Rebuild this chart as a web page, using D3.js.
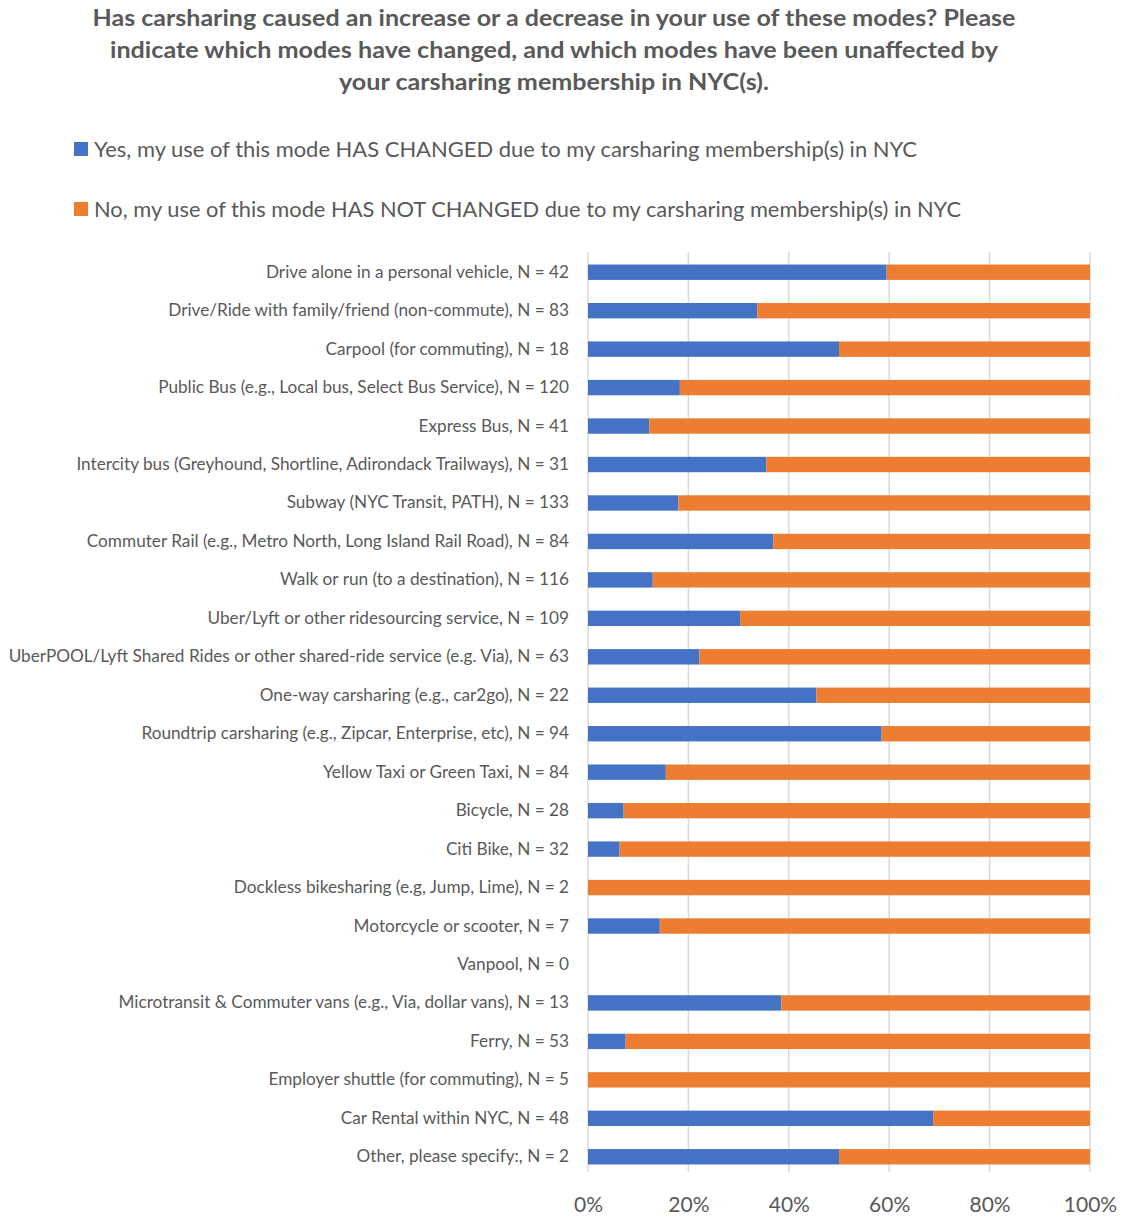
<!DOCTYPE html>
<html>
<head>
<meta charset="utf-8">
<script src="https://cdn.jsdelivr.net/npm/d3@7"></script>
<style>
  body { margin: 0; background: #fff; }
  text { font-family: Lato, "Open Sans", sans-serif; fill: #595959; }
</style>
</head>
<body>
<svg id="chart" width="1122" height="1217"></svg>
<script>
// Survey modes (top to bottom)
const categories = [
  "Drive alone in a personal vehicle, N = 42",
  "Drive/Ride with family/friend (non-commute), N = 83",
  "Carpool (for commuting), N = 18",
  "Public Bus (e.g., Local bus, Select Bus Service), N = 120",
  "Express Bus, N = 41",
  "Intercity bus (Greyhound, Shortline, Adirondack Trailways), N = 31",
  "Subway (NYC Transit, PATH), N = 133",
  "Commuter Rail (e.g., Metro North, Long Island Rail Road), N = 84",
  "Walk or run (to a destination), N = 116",
  "Uber/Lyft or other ridesourcing service, N = 109",
  "UberPOOL/Lyft Shared Rides or other shared-ride service (e.g. Via), N = 63",
  "One-way carsharing (e.g., car2go), N = 22",
  "Roundtrip carsharing (e.g., Zipcar, Enterprise, etc), N = 94",
  "Yellow Taxi or Green Taxi, N = 84",
  "Bicycle, N = 28",
  "Citi Bike, N = 32",
  "Dockless bikesharing (e.g, Jump, Lime), N = 2",
  "Motorcycle or scooter, N = 7",
  "Vanpool, N = 0",
  "Microtransit & Commuter vans (e.g., Via, dollar vans), N = 13",
  "Ferry, N = 53",
  "Employer shuttle (for commuting), N = 5",
  "Car Rental within NYC, N = 48",
  "Other, please specify:, N = 2"
];

// Share of respondents (%) whose use HAS CHANGED
const changed = [59.5, 33.7, 50.0, 18.3, 12.2, 35.5, 18.0, 36.9, 12.9, 30.3, 22.2, 45.5,
                 58.5, 15.5, 7.1, 6.3, 0, 14.3, 0, 38.5, 7.5, 0, 68.75, 50.0];
// Share of respondents (%) whose use HAS NOT CHANGED
const notChanged = [40.5, 66.3, 50.0, 81.7, 87.8, 64.5, 82.0, 63.1, 87.1, 69.7, 77.8, 54.5,
                    41.5, 84.5, 92.9, 93.7, 100, 85.7, 0, 61.5, 92.5, 100, 31.25, 50.0];

const seriesNames = [
  "Yes, my use of this mode HAS CHANGED due to my carsharing membership(s) in NYC",
  "No, my use of this mode HAS NOT CHANGED due to my carsharing membership(s) in NYC"
];
const seriesColors = ["#4472c4", "#ed7d31"];
const tickValues = [0, 20, 40, 60, 80, 100];

const titleLines = [
  "Has carsharing caused an increase or a decrease in your use of these modes? Please",
  "indicate which modes have changed, and which modes have been unaffected by",
  "your carsharing membership in NYC(s)."
];

const svg = d3.select("#chart");

// Title
const titleWidths = [923, 888, 430];
svg.append("g").selectAll("text").data(titleLines).join("text")
  .attr("x", 554).attr("y", (d, i) => 26 + i * 32)
  .attr("text-anchor", "middle")
  .attr("font-size", 22).attr("font-weight", "bold")
  .attr("textLength", (d, i) => titleWidths[i])
  .attr("lengthAdjust", "spacingAndGlyphs")
  .text(d => d);

// Legend
const legendWidths = [823, 867];
const legend = svg.append("g");
seriesNames.forEach((name, i) => {
  const y = 149 + i * 60;
  legend.append("rect").attr("x", 74).attr("y", y - 7).attr("width", 14).attr("height", 14)
    .attr("fill", seriesColors[i]);
  legend.append("text").attr("x", 94).attr("y", y + 7.5)
    .attr("font-size", 21)
    .attr("textLength", legendWidths[i]).attr("lengthAdjust", "spacingAndGlyphs")
    .text(name);
});

// Scales
const x = d3.scaleLinear().domain([0, 100]).range([588, 1090]);
const y = d3.scaleBand().domain(categories).range([253, 1176]).paddingInner(0.6).paddingOuter(0.3);

// Gridlines
svg.append("g").selectAll("line").data(tickValues).join("line")
  .attr("x1", d => x(d)).attr("x2", d => x(d))
  .attr("y1", 252).attr("y2", 1172)
  .attr("stroke", "#d9d9d9").attr("stroke-width", 1.5);

// Stacked bars
const rows = categories.map((c, i) => ({ cat: c, a: changed[i], b: notChanged[i] }));
const bars = svg.append("g");
bars.selectAll("rect.a").data(rows).join("rect").attr("class", "a")
  .attr("x", x(0)).attr("y", d => y(d.cat))
  .attr("width", d => x(d.a) - x(0)).attr("height", y.bandwidth())
  .attr("fill", seriesColors[0]);
bars.selectAll("rect.b").data(rows).join("rect").attr("class", "b")
  .attr("x", d => x(d.a)).attr("y", d => y(d.cat))
  .attr("width", d => x(d.a + d.b) - x(d.a)).attr("height", y.bandwidth())
  .attr("fill", seriesColors[1]);

// Category axis
const yAxis = svg.append("g").attr("transform", `translate(${x(0)},0)`)
  .call(d3.axisLeft(y).tickSize(0).tickPadding(19));
yAxis.select(".domain").remove();
yAxis.selectAll("text").attr("font-size", 17.2).style("font-family", "Lato, sans-serif").attr("fill", "#595959");

// Value axis
const xAxis = svg.append("g").attr("transform", "translate(0,1190)")
  .call(d3.axisBottom(x).tickValues(tickValues).tickSize(0).tickFormat(d => d + "%"));
xAxis.select(".domain").remove();
xAxis.selectAll("text").attr("font-size", 21).attr("dy", "0.9em")
  .style("font-family", "Lato, sans-serif").attr("fill", "#595959");
</script>
</body>
</html>
